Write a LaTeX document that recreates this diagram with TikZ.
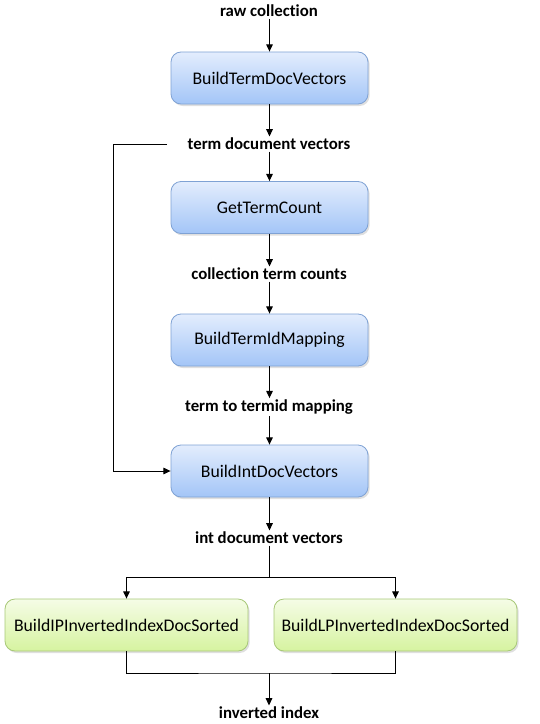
\documentclass[tikz,border=0pt]{standalone}
\usepackage{fontspec}
\setmainfont{Carlito}[Ligatures={NoCommon}]
\usetikzlibrary{arrows.meta,shadows}
\definecolor{bluetop}{HTML}{E3EDFD}
\definecolor{bluebot}{HTML}{A3C5F7}
\definecolor{blueline}{HTML}{7FA2D4}
\definecolor{greentop}{HTML}{F5FCE6}
\definecolor{greenbot}{HTML}{D6F3A0}
\definecolor{greenline}{HTML}{A8C878}
\tikzset{
  bluebox/.style={draw=blueline, line width=0.6pt, rounded corners=7.5pt, top color=bluetop, bottom color=bluebot,
    minimum width=197*0.75pt, minimum height=52*0.75pt, inner sep=0pt, font=\fontsize{13.3}{15}\selectfont,
    drop shadow={opacity=0.25, shadow xshift=1.2pt, shadow yshift=-1.5pt}},
  greenbox/.style={bluebox, draw=greenline, top color=greentop, bottom color=greenbot, minimum width=243*0.75pt},
  lbl/.style={font=\fontsize{12.6}{14}\selectfont\bfseries, inner sep=1pt},
  conn/.style={line width=0.75pt, -{Triangle[length=5.5pt,width=5pt]}},
  plain/.style={line width=0.75pt}
}
\begin{document}
\begin{tikzpicture}[x=0.75pt,y=-0.75pt]
\useasboundingbox (0,0) rectangle (539,724);
\node[lbl] (raw) at (269,11) {raw collection};
\node[bluebox] (btdv) at (269.5,78) {BuildTermDocVectors};
\node[lbl] (tdv) at (269,144) {term document vectors};
\node[bluebox] (gtc) at (269.5,207.5) {GetTermCount};
\node[lbl] (ctc) at (269,274) {collection term counts};
\node[bluebox] (btim) at (269.5,340) {BuildTermIdMapping};
\node[lbl] (ttm) at (269,407) {term to termid mapping};
\node[bluebox] (bidv) at (269.5,471) {BuildIntDocVectors};
\node[lbl] (idv) at (269,538) {int document vectors};
\node[greenbox] (lp) at (126.5,625) {BuildIPInvertedIndexDocSorted};
\node[greenbox] (rp) at (395.5,625) {BuildLPInvertedIndexDocSorted};
\node[lbl] (ii) at (269,713) {inverted index};

\coordinate (loopstart) at (167,144);
\coordinate (split) at (269,577);
\coordinate (merge) at (269,673);

\draw[conn] (raw.south -| btdv.north) -- (btdv.north);
\draw[conn] (btdv.south) -- (tdv.north -| btdv.south);
\draw[conn] (tdv.south -| gtc.north) -- (gtc.north);
\draw[conn] (gtc.south) -- (ctc.north -| gtc.south);
\draw[conn] (ctc.south -| btim.north) -- (btim.north);
\draw[conn] (btim.south) -- (ttm.north -| btim.south);
\draw[conn] (ttm.south -| bidv.north) -- (bidv.north);
\draw[conn] (bidv.south) -- (idv.north -| bidv.south);
\draw[conn] (loopstart) -- (113,144) -- (113,471) -- (bidv.west);
\draw[plain] (idv.south -| split) -- (split);
\draw[conn] (split) -| (lp.north);
\draw[conn] (split) -| (rp.north);
\draw[plain] (lp.south) |- (merge) -| (rp.south);
\draw[conn] (merge) -- (ii.north -| merge);
\end{tikzpicture}
\end{document}
